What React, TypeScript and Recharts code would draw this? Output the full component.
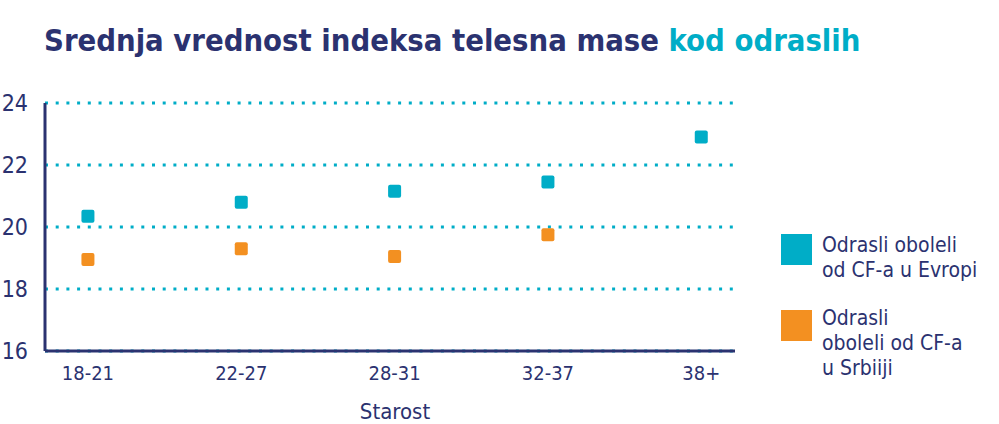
import { CartesianGrid, Label, Scatter, ScatterChart, XAxis, YAxis } from "recharts";

const ages = ["18-21", "22-27", "28-31", "32-37", "38+"];
const europe = [20.35, 20.8, 21.15, 21.45, 22.9];
const serbia = [18.95, 19.3, 19.05, 19.75, null];
const yTicks = [16, 18, 20, 22, 24];

const navy = "#2b3270";
const teal = "#00adc7";
const orange = "#f39021";
const font = "'DejaVu Sans Condensed', 'DejaVu Sans', sans-serif";

const toPoints = (vals: (number | null)[]) =>
  vals.map((v, i) => ({ x: i, y: v })).filter((p) => p.y !== null);

const square = (color: string) => (p: any) => (
  <rect x={p.cx - 6.5} y={p.cy - 6.5} width={13} height={13} rx={2} fill={color} />
);

export default function App() {
  return (
    <div style={{ position: "absolute", left: 0, top: 0, width: 999, height: 424, background: "#fff", fontFamily: font, fontStretch: "condensed" }}>
      <div style={{ position: "absolute", left: 44, top: 23, fontSize: 30.7, fontWeight: "bold", color: navy, whiteSpace: "nowrap" }}>
        Srednja vrednost indeksa telesna mase <span style={{ color: teal }}>kod odraslih</span>
      </div>
      <ScatterChart width={999} height={424} margin={{ top: 103, right: 264, bottom: 0, left: 0 }}>
        <CartesianGrid vertical={false} stroke={teal} strokeWidth={3} strokeDasharray="3 7.7" />
        <XAxis
          type="number"
          dataKey="x"
          domain={[-0.28, 4.22]}
          ticks={[0, 1, 2, 3, 4]}
          tickFormatter={(i: number) => ages[i]}
          axisLine={{ stroke: navy, strokeWidth: 3 }}
          tickLine={false}
          tickSize={0}
          tickMargin={15}
          height={73}
          tick={{ fill: navy, fontSize: 20, fontFamily: font }}
        >
          <Label value="Starost" position="insideBottom" offset={5} dx={5} fill={navy} fontSize={22} fontFamily={font} />
        </XAxis>
        <YAxis
          type="number"
          dataKey="y"
          domain={[16, 24]}
          ticks={yTicks}
          width={45}
          axisLine={{ stroke: navy, strokeWidth: 3 }}
          tickLine={false}
          tickSize={0}
          tickMargin={17}
          tick={{ fill: navy, fontSize: 23, fontFamily: font }}
        />
        <Scatter data={toPoints(europe)} shape={square(teal)} isAnimationActive={false} />
        <Scatter data={toPoints(serbia)} shape={square(orange)} isAnimationActive={false} />
      </ScatterChart>
      <div style={{ position: "absolute", left: 781, top: 234, width: 31, height: 31, background: teal }} />
      <div style={{ position: "absolute", left: 822, top: 233, fontSize: 21, lineHeight: "25px", color: navy }}>
        Odrasli oboleli
        <br />
        od CF-a u Evropi
      </div>
      <div style={{ position: "absolute", left: 781, top: 310, width: 31, height: 31, background: orange }} />
      <div style={{ position: "absolute", left: 822, top: 306, fontSize: 21, lineHeight: "25px", color: navy }}>
        Odrasli
        <br />
        oboleli od CF-a
        <br />u Srbiiji
      </div>
    </div>
  );
}
